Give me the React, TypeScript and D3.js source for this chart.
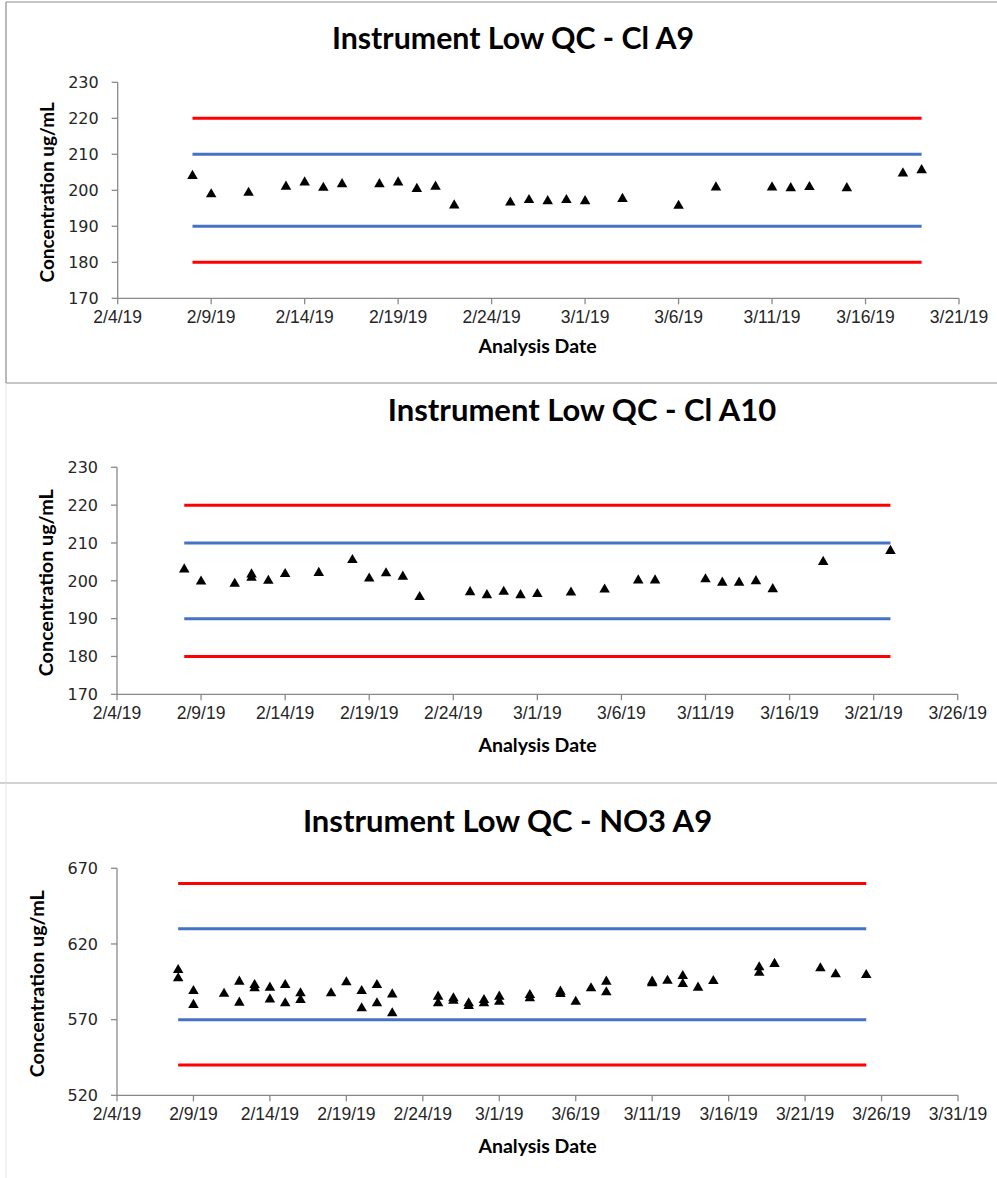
import React from "react";
import * as d3 from "d3";

// ---------- Data ----------
const clA9Dates = [
  "2019-02-08","2019-02-09","2019-02-11","2019-02-13","2019-02-14","2019-02-15","2019-02-16",
  "2019-02-18","2019-02-19","2019-02-20","2019-02-21","2019-02-22","2019-02-25","2019-02-26",
  "2019-02-27","2019-02-28","2019-03-01","2019-03-03","2019-03-06","2019-03-08","2019-03-11",
  "2019-03-12","2019-03-13","2019-03-15","2019-03-18","2019-03-19",
];
const clA9Values = [
  204.0, 198.9, 199.3, 201.0, 202.2, 200.7, 201.7,
  201.7, 202.2, 200.4, 201.0, 195.8, 196.6, 197.3,
  197.0, 197.3, 197.0, 197.6, 195.7, 200.8, 200.8,
  200.6, 200.9, 200.6, 204.7, 205.6,
];

const clA10Dates = [
  "2019-02-08","2019-02-09","2019-02-11","2019-02-12","2019-02-12","2019-02-13","2019-02-14",
  "2019-02-16","2019-02-18","2019-02-19","2019-02-20","2019-02-21","2019-02-22","2019-02-25",
  "2019-02-26","2019-02-27","2019-02-28","2019-03-01","2019-03-03","2019-03-05","2019-03-07",
  "2019-03-08","2019-03-11","2019-03-12","2019-03-13","2019-03-14","2019-03-15","2019-03-18",
  "2019-03-22",
];
const clA10Values = [
  203.0, 199.8, 199.2, 201.7, 200.8, 200.0, 201.8,
  202.1, 205.5, 200.6, 202.0, 201.1, 195.7, 197.0,
  196.2, 197.1, 196.2, 196.5, 196.9, 197.7, 200.1,
  200.1, 200.4, 199.5, 199.5, 199.9, 197.8, 205.0,
  207.9,
];

const no3A9Dates = [
  "2019-02-08","2019-02-08","2019-02-09","2019-02-09","2019-02-11","2019-02-12","2019-02-12",
  "2019-02-13","2019-02-13","2019-02-14","2019-02-14","2019-02-15","2019-02-15","2019-02-16",
  "2019-02-16","2019-02-18","2019-02-19","2019-02-20","2019-02-20","2019-02-21","2019-02-21",
  "2019-02-22","2019-02-22","2019-02-25","2019-02-25","2019-02-26","2019-02-26","2019-02-27",
  "2019-02-27","2019-02-28","2019-02-28","2019-03-01","2019-03-01","2019-03-03","2019-03-03",
  "2019-03-05","2019-03-05","2019-03-06","2019-03-07","2019-03-08","2019-03-08","2019-03-11",
  "2019-03-11","2019-03-12","2019-03-13","2019-03-13","2019-03-14","2019-03-15","2019-03-18",
  "2019-03-18","2019-03-19","2019-03-22","2019-03-23","2019-03-25",
];
const no3A9Values = [
  602.8, 597.3, 588.9, 579.7, 587.1, 595.1, 581.2,
  592.9, 590.7, 591.1, 583.4, 592.9, 580.8, 587.4,
  583.0, 587.4, 594.7, 588.9, 577.5, 592.9, 580.8,
  586.7, 574.2, 585.2, 580.8, 584.1, 582.5, 580.8,
  579.0, 583.0, 580.8, 585.2, 581.8, 586.3, 584.1,
  588.5, 587.0, 581.8, 590.7, 595.1, 588.1, 595.1,
  594.0, 595.7, 598.8, 593.5, 591.1, 595.5, 604.6,
  601.0, 606.8, 603.9, 600.0, 599.5,
];

const clLimits = [220, 210, 190, 180];
const no3Limits = [660, 630, 570, 540];
const limitColors = ["#FF0000", "#4472C4", "#4472C4", "#FF0000"];

const yTicksCl = [170, 180, 190, 200, 210, 220, 230];
const yTicksNo3 = [520, 570, 620, 670];

// ---------- Chart ----------
const parse = d3.timeParse("%Y-%m-%d");
const fmt = d3.timeFormat("%-m/%-d/%y");

type ChartProps = {
  title: string;
  dates: string[];
  values: number[];
  limits: number[];
  yTicks: number[];
  xStart: string;
  xEnd: string;
  limStart: string;
  limEnd: string;
  left: number;
  right: number;
  top: number;
  bottom: number;
  titleX: number;
  titleY: number;
  titleSize: number;
  yLabelX: number;
  yLabelSize: number;
  xLabelY: number;
};

function Chart(p: ChartProps) {
  const x0 = parse(p.xStart)!;
  const x1 = parse(p.xEnd)!;
  const x = d3.scaleTime().domain([x0, x1]).range([p.left, p.right]);
  const y = d3
    .scaleLinear()
    .domain([p.yTicks[0], p.yTicks[p.yTicks.length - 1]])
    .range([p.bottom, p.top]);
  const nDays = d3.timeDay.count(x0, x1);
  const xTicks = d3.range(0, nDays + 1, 5).map((i) => d3.timeDay.offset(x0, i));
  const ls = parse(p.limStart)!;
  const le = parse(p.limEnd)!;
  const tri = d3.symbol().type(d3.symbolTriangle).size(48)();
  const axisColor = "#898989";
  return (
    <g>
      <text
        x={p.titleX}
        y={p.titleY}
        textAnchor="middle"
        fontFamily="Lato, 'Open Sans', sans-serif"
        fontWeight="bold"
        fontSize={p.titleSize}
        fill="#000"
      >
        {p.title}
      </text>
      {p.limits.map((v, i) => (
        <line
          key={"lim" + i}
          x1={x(ls)}
          x2={x(le)}
          y1={y(v)}
          y2={y(v)}
          stroke={limitColors[i]}
          strokeWidth={3}
        />
      ))}
      <line x1={p.left} x2={p.left} y1={p.top} y2={p.bottom} stroke={axisColor} strokeWidth={1.3} />
      <line x1={p.left} x2={p.right} y1={p.bottom} y2={p.bottom} stroke={axisColor} strokeWidth={1.3} />
      {p.yTicks.map((t) => (
        <g key={"yt" + t}>
          <line x1={p.left - 6} x2={p.left} y1={y(t)} y2={y(t)} stroke={axisColor} strokeWidth={1.3} />
          <text
            x={p.left - 19}
            y={y(t)}
            dy="0.36em"
            textAnchor="end"
            fontFamily="'DejaVu Sans', sans-serif"
            fontSize={16}
            fill="#262626"
          >
            {t}
          </text>
        </g>
      ))}
      {xTicks.map((t, i) => (
        <g key={"xt" + i}>
          <line x1={x(t)} x2={x(t)} y1={p.bottom} y2={p.bottom + 6} stroke={axisColor} strokeWidth={1.3} />
          <text
            x={x(t)}
            y={p.bottom + 25}
            textAnchor="middle"
            fontFamily="'Liberation Sans', Arial, sans-serif"
            fontSize={17.5}
            fill="#262626"
          >
            {fmt(t)}
          </text>
        </g>
      ))}
      {p.dates.map((d, i) => (
        <path
          key={"pt" + i}
          d={tri}
          transform={`translate(${x(parse(d)!)},${y(p.values[i])})`}
          fill="#000"
        />
      ))}
      <text
        transform={`translate(${p.yLabelX},${(p.top + p.bottom) / 2 + 2}) rotate(-90)`}
        textAnchor="middle"
        fontFamily="Lato, 'Open Sans', sans-serif"
        fontWeight="bold"
        fontSize={p.yLabelSize}
        fill="#000"
      >
        Concentration ug/mL
      </text>
      <text
        x={537.5}
        y={p.xLabelY}
        textAnchor="middle"
        fontFamily="Lato, 'Open Sans', sans-serif"
        fontWeight="bold"
        fontSize={19.5}
        fill="#000"
      >
        Analysis Date
      </text>
    </g>
  );
}

export default function App() {
  return (
    <svg
      width={997}
      height={1178}
      style={{ position: "absolute", left: 0, top: 0, background: "#fff" }}
    >
      <rect x={0} y={0} width={997} height={1178} fill="#fff" />
      <line x1={6} x2={997} y1={2} y2={2} stroke="#8c8c8c" strokeWidth={1.2} />
      <line x1={6} x2={6} y1={2} y2={383} stroke="#8c8c8c" strokeWidth={1.2} />
      <line x1={6} x2={997} y1={383} y2={383} stroke="#8c8c8c" strokeWidth={1.2} />
      <line x1={6} x2={6} y1={383} y2={783} stroke="#e6e6e6" strokeWidth={1} />
      <line x1={0} x2={997} y1={783} y2={783} stroke="#a6a6a6" strokeWidth={1.2} />
      <line x1={6} x2={6} y1={783} y2={1178} stroke="#e6e6e6" strokeWidth={1} />

      <Chart
        title="Instrument Low QC - Cl A9"
        dates={clA9Dates}
        values={clA9Values}
        limits={clLimits}
        yTicks={yTicksCl}
        xStart="2019-02-04"
        xEnd="2019-03-21"
        limStart="2019-02-08"
        limEnd="2019-03-19"
        left={117.7}
        right={959}
        top={82.3}
        bottom={298.3}
        titleX={513}
        titleY={49}
        titleSize={30.3}
        yLabelX={53.5}
        yLabelSize={19}
        xLabelY={352.7}
      />
      <Chart
        title="Instrument Low QC - Cl A10"
        dates={clA10Dates}
        values={clA10Values}
        limits={clLimits}
        yTicks={yTicksCl}
        xStart="2019-02-04"
        xEnd="2019-03-26"
        limStart="2019-02-08"
        limEnd="2019-03-22"
        left={117}
        right={957.7}
        top={467.3}
        bottom={694.3}
        titleX={582}
        titleY={420.7}
        titleSize={31}
        yLabelX={53.3}
        yLabelSize={19.7}
        xLabelY={751.7}
      />
      <Chart
        title="Instrument Low QC - NO3 A9"
        dates={no3A9Dates}
        values={no3A9Values}
        limits={no3Limits}
        yTicks={yTicksNo3}
        xStart="2019-02-04"
        xEnd="2019-03-31"
        limStart="2019-02-08"
        limEnd="2019-03-25"
        left={117}
        right={958}
        top={868.3}
        bottom={1095.3}
        titleX={507.5}
        titleY={832.3}
        titleSize={31}
        yLabelX={44}
        yLabelSize={19.7}
        xLabelY={1152.7}
      />
    </svg>
  );
}
